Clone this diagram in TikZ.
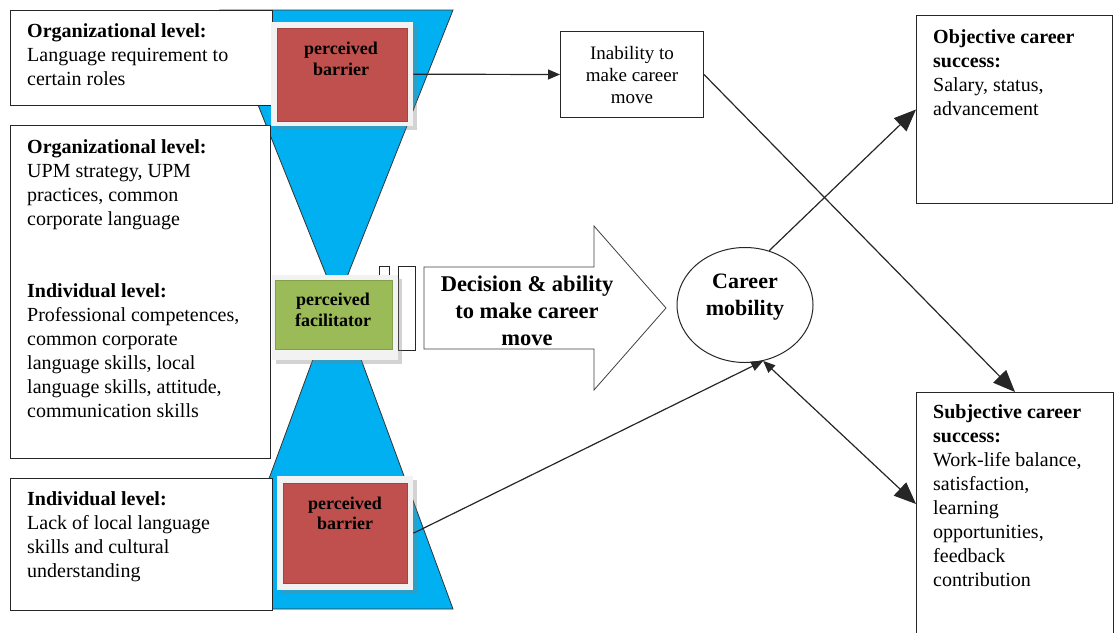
\documentclass[tikz,border=0pt]{standalone}
\usepackage{fontspec}
\setmainfont{Liberation Serif}
\usetikzlibrary{arrows.meta,shapes.geometric,calc,shadows}
\definecolor{hgblue}{HTML}{00B0F0}
\definecolor{barred}{HTML}{C0504D}
\definecolor{facgreen}{HTML}{9BBB59}
\definecolor{framegray}{HTML}{F2F2F2}
\begin{document}
\begin{tikzpicture}[x=1pt,y=-1pt,
  box/.style={draw=black!85, fill=white, line width=1pt, inner sep=0pt, anchor=north west},
  bodytext/.style={anchor=north west, inner sep=0pt, align=left, font=\fontsize{20}{24}\selectfont},
  frame/.style={fill=framegray, draw=none, inner sep=0pt, anchor=north west,
    drop shadow={shadow xshift=4pt, shadow yshift=-4pt, opacity=0.35}},
  inner/.style={draw=#1!85!black, line width=0.4pt, fill=#1, inner sep=0pt, anchor=north west},
  ptext/.style={align=center, inner sep=0pt, font=\bfseries\fontsize{18}{21}\selectfont},
  bracketbox/.style={draw=black!85, line width=0.8pt, fill=white, inner sep=0pt, anchor=north west},
  conn/.style={line width=1.2pt, draw=black!85},
  bigtip/.style={-{Triangle[length=22pt,width=18pt]}},
  smalltip/.style={-{Triangle[length=12pt,width=10pt]}}
]
\useasboundingbox (0,0) rectangle (1116,632);

% hourglass
\filldraw[fill=hgblue, draw=black!80, line width=0.8pt] (220,10) -- (453,10) -- (337,302) -- cycle;
\filldraw[fill=hgblue, draw=black!80, line width=0.8pt] (337,294) -- (453,609) -- (221,609) -- cycle;

% small bracket boxes
\node[bracketbox, minimum width=10, minimum height=84] (br1) at (379,266) {};
\node[bracketbox, minimum width=17, minimum height=84] (br2) at (398,266) {};

% left boxes
\node[box, minimum width=262, minimum height=95] (orgA) at (10,10) {};
\node[bodytext] (orgAt) at ($(orgA.north west)+(17,13)$)
  {\textbf{Organizational level:}\\Language requirement to\\certain roles};

\node[box, minimum width=260, minimum height=333] (orgB) at (10,125) {};
\node[bodytext] (orgBt) at ($(orgB.north west)+(17,14)$)
  {\textbf{Organizational level:}\\UPM strategy, UPM\\practices, common\\corporate language\\[48pt]
   \textbf{Individual level:}\\Professional competences,\\common corporate\\language skills, local\\language skills, attitude,\\communication skills};

\node[box, minimum width=262, minimum height=132] (indC) at (10,478) {};
\node[bodytext] (indCt) at ($(indC.north west)+(17,13)$)
  {\textbf{Individual level:}\\Lack of local language\\skills and cultural\\understanding};

% perceived barrier (top)
\node[frame, minimum width=142, minimum height=104] (tbf) at (271,22) {};
\node[inner=barred, minimum width=130, minimum height=93] (tbr) at (277,28) {};
\node[ptext] (tbt) at (341,59) {perceived\\barrier};

% perceived facilitator
\node[frame, minimum width=126, minimum height=85] (gf) at (272,275) {};
\node[inner=facgreen, minimum width=117, minimum height=69] (gr) at (275,280) {};
\node[ptext] (gt) at (333,310) {perceived\\facilitator};

% perceived barrier (bottom)
\node[frame, minimum width=136, minimum height=114] (bbf) at (277,476) {};
\node[inner=barred, minimum width=124, minimum height=100] (bbr) at (283,483) {};
\node[ptext, font=\bfseries\fontsize{18}{20}\selectfont] (bbt) at (345,513) {perceived\\barrier};

% big arrow
\filldraw[fill=white, draw=black!75, line width=0.8pt]
  (424,267) -- (594,267) -- (594,226) -- (666,308) -- (594,390) -- (594,349) -- (424,349) -- cycle;
\node[align=center, inner sep=0pt, font=\bfseries\fontsize{22.5}{27}\selectfont] (dec) at (527,311)
  {Decision \& ability\\to make career\\move};

% career mobility
\node[draw=black!85, line width=1pt, ellipse, minimum width=136, minimum height=115, inner sep=0pt] (cm) at (745,305) {};
\node[align=center, inner sep=0pt, font=\bfseries\fontsize{22}{27}\selectfont] (cmt) at (745,297) {Career\\mobility};

% inability
\node[box, minimum width=143, minimum height=86, align=center, font=\fontsize{19}{22}\selectfont] (inab) at (560,31)
  {Inability to\\make career\\move};

% objective
\node[box, minimum width=196, minimum height=188] (obj) at (916,15) {};
\node[bodytext] (objt) at ($(obj.north west)+(17,14)$)
  {\textbf{Objective career}\\\textbf{success:}\\Salary, status,\\advancement};

% subjective
\node[box, minimum width=197, minimum height=260] (subj) at (916,392) {};
\node[bodytext] (subjt) at ($(subj.north west)+(17,12)$)
  {\textbf{Subjective career}\\\textbf{success:}\\Work-life balance,\\satisfaction,\\learning\\opportunities,\\feedback\\contribution};

% connectors
\draw[conn, smalltip] (tbf.east) -- (inab.west);
\draw[conn, bigtip] (inab.east) -- (subj.north);
\draw[conn, bigtip] (cm.66) -- (obj.west);
\draw[conn, smalltip] (bbf.east) -- (cm.288);
\draw[conn, {Triangle[length=12pt,width=10pt]}-{Triangle[length=22pt,width=18pt]}] (cm.288) -- ($(subj.north west)+(0,112)$);
\end{tikzpicture}
\end{document}
